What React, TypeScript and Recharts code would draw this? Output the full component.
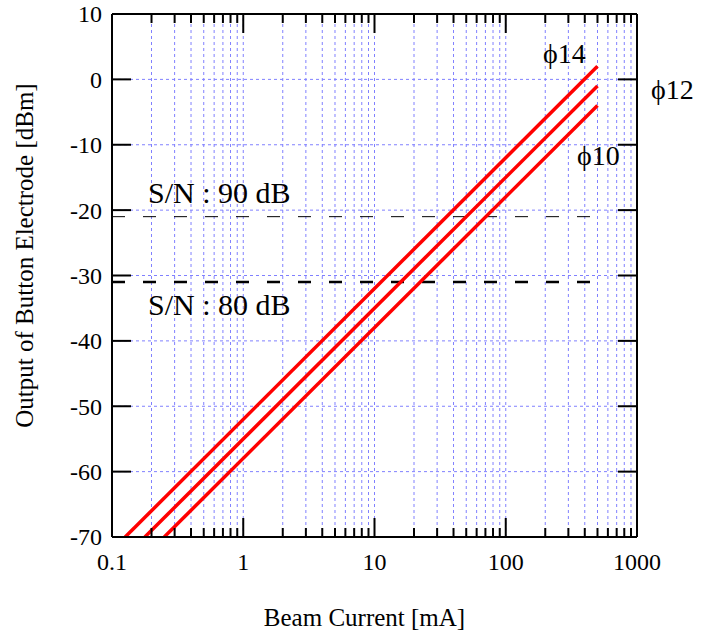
import React from 'react';
import { LineChart, Line, XAxis, YAxis, ReferenceLine, ReferenceDot } from 'recharts';

// axis ticks
const xMajor = [0.1, 1, 10, 100, 1000];
const xMinorSteps = [2, 3, 4, 5, 6, 7, 8, 9];
const yTicks = [-70, -60, -50, -40, -30, -20, -10, 0, 10];

// button electrode output vs beam current
const currentPhi14 = [0.126, 500];
const outputPhi14 = [-70, 2];
const currentPhi12 = [0.178, 500];
const outputPhi12 = [-70, -1];
const currentPhi10 = [0.25, 500];
const outputPhi10 = [-70, -4];

// S/N levels
const snCurrent = [0.1, 500];
const sn90 = [-21, -21];
const sn80 = [-31, -31];

const FONT = '"Liberation Serif", "Times New Roman", serif';

const xTicks = xMajor.flatMap(d =>
  d === 1000 ? [d] : [d, ...xMinorSteps.map(s => +(d * s).toPrecision(3))]
);
const xGrid = xTicks.filter(v => v !== 0.1 && v !== 1000);
const yGrid = yTicks.filter(v => v !== -70 && v !== 10);

const toPoints = (xs: number[], ys: number[]) => xs.map((x, i) => ({ x, y: ys[i] }));

const isMajor = (v: number) => xMajor.includes(v);

const BottomTick = (props: any) => {
  const { x, y, payload } = props;
  const major = isMajor(payload.value);
  return (
    <g>
      <line x1={x} x2={x} y1={y} y2={y - (major ? 19 : 9)} stroke="#000" strokeWidth={2} />
      {major && (
        <text x={x} y={y + 33} textAnchor="middle" fontSize={24} fontFamily={FONT} fill="#000">
          {payload.value}
        </text>
      )}
    </g>
  );
};

const TopTick = (props: any) => {
  const { x, y, payload } = props;
  const major = isMajor(payload.value);
  return <line x1={x} x2={x} y1={y} y2={y + (major ? 19 : 9)} stroke="#000" strokeWidth={2} />;
};

const LeftTick = (props: any) => {
  const { x, y, payload } = props;
  return (
    <g>
      <line x1={x} x2={x + 19} y1={y} y2={y} stroke="#000" strokeWidth={2} />
      <text x={x - 10} y={y} dy="0.35em" textAnchor="end" fontSize={24} fontFamily={FONT} fill="#000">
        {payload.value}
      </text>
    </g>
  );
};

const RightTick = (props: any) => {
  const { x, y } = props;
  return <line x1={x} x2={x - 19} y1={y} y2={y} stroke="#000" strokeWidth={2} />;
};

const note = (text: string, size: number) => (p: any) => (
  <text x={p.cx} y={p.cy} fontSize={size} fontFamily={FONT} fill="#000">
    {text}
  </text>
);

const notes = [
  { x: 192, y: 2.5, text: 'ϕ14', size: 28 },
  { x: 1280, y: -3, text: 'ϕ12', size: 28 },
  { x: 349, y: -13.1, text: 'ϕ10', size: 28 },
  { x: 0.188, y: -18.9, text: 'S/N : 90 dB', size: 30 },
  { x: 0.188, y: -36, text: 'S/N : 80 dB', size: 30 },
];

const axisLine = { stroke: '#000', strokeWidth: 2 };

export default function App() {
  return (
    <div style={{ position: 'absolute', left: 0, top: 0, background: '#fff' }}>
      <LineChart width={702} height={631} margin={{ top: 13, right: 64, bottom: 0, left: 0 }}>
        <XAxis
          xAxisId="b"
          dataKey="x"
          type="number"
          scale="log"
          domain={[0.1, 1000]}
          allowDataOverflow
          ticks={xTicks}
          interval={0}
          height={94}
          tickSize={0}
          tickMargin={0}
          tickLine={false}
          axisLine={axisLine}
          tick={BottomTick}
          label={({ viewBox }: any) => (
            <text
              x={viewBox.x + viewBox.width / 2 - 10}
              y={viewBox.y + 89}
              textAnchor="middle"
              fontSize={25}
              fontFamily={FONT}
              fill="#000"
            >
              Beam Current [mA]
            </text>
          )}
        />
        <XAxis
          xAxisId="t"
          dataKey="x"
          type="number"
          scale="log"
          orientation="top"
          domain={[0.1, 1000]}
          allowDataOverflow
          ticks={xTicks}
          interval={0}
          height={1}
          tickSize={0}
          tickMargin={0}
          tickLine={false}
          axisLine={axisLine}
          tick={TopTick}
        />
        <YAxis
          yAxisId="l"
          type="number"
          domain={[-70, 10]}
          allowDataOverflow
          ticks={yTicks}
          interval={0}
          width={112}
          tickSize={0}
          tickMargin={0}
          tickLine={false}
          axisLine={axisLine}
          tick={LeftTick}
          label={({ viewBox }: any) => (
            <text
              x={33}
              y={viewBox.y + viewBox.height / 2 - 20}
              transform={`rotate(-90 33 ${viewBox.y + viewBox.height / 2 - 20})`}
              textAnchor="middle"
              fontSize={25}
              fontFamily={FONT}
              fill="#000"
            >
              Output of Button Electrode [dBm]
            </text>
          )}
        />
        <YAxis
          yAxisId="r"
          orientation="right"
          type="number"
          domain={[-70, 10]}
          allowDataOverflow
          ticks={yTicks}
          interval={0}
          width={1}
          tickSize={0}
          tickMargin={0}
          tickLine={false}
          axisLine={axisLine}
          tick={RightTick}
        />

        {xGrid.map(v => (
          <ReferenceLine key={'gx' + v} xAxisId="b" yAxisId="l" x={v} stroke="#8080ff" strokeWidth={1} strokeDasharray="3 3" />
        ))}
        {yGrid.map(v => (
          <ReferenceLine key={'gy' + v} xAxisId="b" yAxisId="l" y={v} stroke="#8080ff" strokeWidth={1} strokeDasharray="3 3" />
        ))}

        <Line xAxisId="b" yAxisId="l" data={toPoints(snCurrent, sn90)} dataKey="y" type="linear" stroke="#000" strokeWidth={1} strokeDasharray="13 18" dot={false} isAnimationActive={false} />
        <Line xAxisId="b" yAxisId="l" data={toPoints(snCurrent, sn80)} dataKey="y" type="linear" stroke="#000" strokeWidth={2.5} strokeDasharray="13 18" dot={false} isAnimationActive={false} />

        <Line xAxisId="b" yAxisId="l" data={toPoints(currentPhi14, outputPhi14)} dataKey="y" type="linear" stroke="#ff0000" strokeWidth={3.5} dot={false} isAnimationActive={false} />
        <Line xAxisId="b" yAxisId="l" data={toPoints(currentPhi12, outputPhi12)} dataKey="y" type="linear" stroke="#ff0000" strokeWidth={3.5} dot={false} isAnimationActive={false} />
        <Line xAxisId="b" yAxisId="l" data={toPoints(currentPhi10, outputPhi10)} dataKey="y" type="linear" stroke="#ff0000" strokeWidth={3.5} dot={false} isAnimationActive={false} />

        {notes.map(n => (
          <ReferenceDot
            key={n.text}
            xAxisId="b"
            yAxisId="l"
            x={n.x}
            y={n.y}
            r={0}
            ifOverflow="visible"
            shape={note(n.text, n.size)}
          />
        ))}
      </LineChart>
    </div>
  );
}
